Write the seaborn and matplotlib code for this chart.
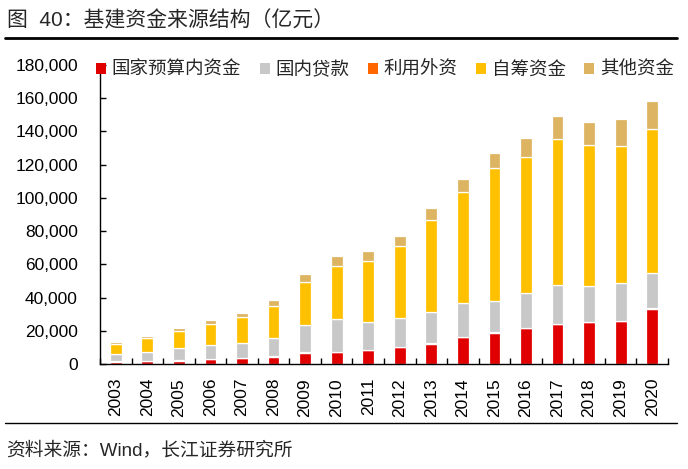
import matplotlib
matplotlib.use("Agg")
import matplotlib.pyplot as plt
import seaborn as sns
import numpy as np
import pandas as pd
from matplotlib.patches import Patch
from matplotlib.ticker import FuncFormatter, FixedLocator

years = [str(y) for y in range(2003, 2021)]
budget = [1400, 1600, 2000, 2800, 3400, 4400, 6800, 7200, 8200, 10050, 12250, 16050, 18850, 21500, 23900, 25100, 25900, 33300]
foreign = [200, 200, 250, 250, 300, 300, 300, 300, 250, 250, 250, 250, 200, 200, 200, 150, 150, 150]
loans = [4600, 5600, 7400, 8200, 9150, 11150, 16400, 19400, 16850, 17600, 18600, 20400, 19050, 21000, 23450, 21500, 22500, 21350]
selfraised = [5850, 8250, 10400, 12650, 15250, 19250, 26050, 32300, 36700, 43100, 55400, 66650, 79900, 81900, 87900, 85100, 82450, 86700]
others = [1200, 1200, 1450, 2600, 2400, 3200, 4800, 6000, 5800, 6250, 7600, 8050, 8800, 11450, 14050, 14050, 16700, 16800]

series_names = ["国家预算内资金", "国内贷款", "利用外资", "自筹资金", "其他资金"]
series_vals = [budget, loans, foreign, selfraised, others]
colors = ["#E00000", "#C8C8C8", "#FF6600", "#FFC000", "#DDB462"]

sns.set_style("white")
plt.rcParams['font.family'] = ['Liberation Sans', 'Noto Sans CJK SC', 'DejaVu Sans']

fig = plt.figure(figsize=(6.88, 4.69), dpi=100)
ax = fig.add_axes([100/688, 1-364/469, 568/688, 299/469])

# stacking order bottom->top: budget, foreign, loans, selfraised, others
stack_order = [0, 2, 1, 3, 4]
cum = np.zeros(len(years))
for idx in stack_order:
    vals = np.array(series_vals[idx], dtype=float)
    df = pd.DataFrame({"year": years, "val": vals})
    sns.barplot(data=df, x="year", y="val", ax=ax, color=colors[idx],
                bottom=cum, width=0.37, edgecolor="white", linewidth=0.9,
                saturation=1, errorbar=None)
    cum = cum + vals

ax.set_xlim(-0.5, len(years) - 0.5)
ax.set_ylim(0, 180000)
ax.set_yticks(np.arange(0, 180001, 20000))
ax.yaxis.set_major_formatter(FuncFormatter(lambda v, p: f"{int(v):,}"))
ax.set_xlabel("")
ax.set_ylabel("")
ax.set_xticks(range(len(years)))
ax.set_xticklabels(years, rotation=90)
ax.xaxis.set_minor_locator(FixedLocator(np.arange(-0.5, len(years), 1.0)))
ax.tick_params(axis="x", which="major", length=0, labelsize=12.5, pad=10, colors="black")
ax.tick_params(axis="x", which="minor", direction="in", length=4, width=1, color="black", bottom=True)
ax.tick_params(axis="y", direction="in", length=4, width=1, labelsize=12.5, pad=16, colors="black", left=True)

sns.despine(ax=ax, top=True, right=True)
for s in ["left", "bottom"]:
    ax.spines[s].set_color("black")
    ax.spines[s].set_linewidth(1)

handles = [Patch(facecolor=c, edgecolor="none") for c in colors]
fig.legend(handles, series_names, loc="center", bbox_to_anchor=(385/688, 1-70/469),
           ncol=5, frameon=False, handlelength=0.55, handleheight=0.55,
           handletextpad=0.3, columnspacing=1.0, prop={'family': ['Noto Sans CJK SC'], 'size': 13.3})

fig.text(7/688, 1-20/469, "图  40：基建资金来源结构（亿元）", fontsize=15, va="center", ha="left",
         family=['Liberation Sans', 'Noto Sans CJK SC'])
fig.add_artist(plt.Line2D([5/688, 677/688], [1-38/469, 1-38/469], color="black", linewidth=2))
fig.add_artist(plt.Line2D([5/688, 677/688], [1-423/469, 1-423/469], color="black", linewidth=1))
fig.text(6/688, 1-450/469, "资料来源：Wind，长江证券研究所", fontsize=13.5, va="center", ha="left",
         family=['Liberation Sans', 'Noto Sans CJK SC'])

fig.savefig("out.png", dpi=100)
